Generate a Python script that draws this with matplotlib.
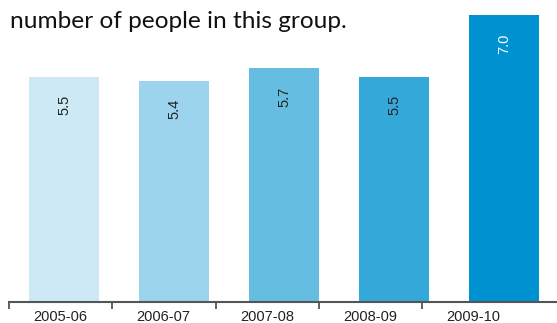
import matplotlib
matplotlib.use("Agg")
import matplotlib.pyplot as plt

# data
periods = ["2005-06", "2006-07", "2007-08", "2008-09", "2009-10"]
values = [5.5, 5.4, 5.7, 5.5, 7.0]
value_labels = ["5.5", "5.4", "5.7", "5.5", "7.0"]
bar_colors = ["#cce9f5", "#9cd4ee", "#66bde2", "#35a8da", "#0092d0"]
text_colors = ["#222222", "#222222", "#222222", "#222222", "#ffffff"]

W, H = 557, 323
fig = plt.figure(figsize=(W / 100, H / 100), dpi=100)

# axes in pixel-like units along x, value units along y
base_px = 302
px_per_unit = 41.0
ax = fig.add_axes([0, (H - base_px) / H, 1, base_px / H])
ax.set_xlim(0, W)
ax.set_ylim(0, base_px / px_per_unit)

bar_x = [64 + 110 * i for i in range(len(values))]
ax.bar(bar_x, values, width=70, color=bar_colors, zorder=2)

for x, v, lab, tc in zip(bar_x, values, value_labels, text_colors):
    ax.text(x, v - 0.45, lab, rotation=90, ha="center", va="top",
            fontsize=10.5, color=tc, family="Liberation Sans", zorder=3)

# category ticks at boundaries, labels centred between them
bounds = [9 + 103.3 * i for i in range(len(periods))]
mids = [60 + 103.4 * i for i in range(len(periods))]
ax.set_xticks(bounds)
ax.set_xticklabels([])
ax.set_xticks(mids, minor=True)
ax.set_xticklabels(periods, minor=True, fontsize=10.5, family="Liberation Sans",
                   color="#222222")
ax.tick_params(axis="x", which="major", length=5, width=1.2, color="#444444",
               direction="out")
ax.tick_params(axis="x", which="minor", length=0, pad=6)
ax.set_yticks([])

for s in ["top", "right", "left"]:
    ax.spines[s].set_visible(False)
ax.spines["bottom"].set_bounds(9, W)
ax.spines["bottom"].set_color("#555555")
ax.spines["bottom"].set_linewidth(1.5)

fig.text(10 / W, 1 - 28 / H, "number of people in this group.", fontsize=17.6,
         family="Lato", color="#111111", ha="left", va="baseline")

fig.savefig("out.png", dpi=100)
